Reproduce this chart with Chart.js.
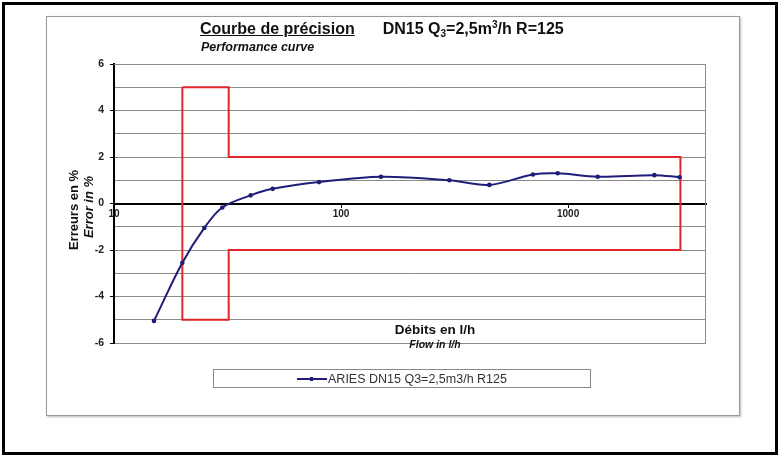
<!DOCTYPE html>
<html>
<head>
<meta charset="utf-8">
<script src="https://cdn.jsdelivr.net/npm/chart.js@4/dist/chart.umd.min.js"></script>
<style>
  body { margin: 0; background: #fff; font-family: Arial, "Liberation Sans", sans-serif; }
  #wrap { position: relative; width: 780px; height: 456px; overflow: hidden; }
  #frame { position: absolute; left: 2px; top: 2px; width: 770px; height: 447px; border: 3px solid #000; }
  #inner { position: absolute; left: 46px; top: 16px; width: 692px; height: 398px; border: 1px solid #999; box-shadow: 1px 1px 2px #bbb; }
  canvas { position: absolute; left: 0; top: 0; }
  .txt { position: absolute; color: #111; white-space: nowrap; }
  .rot { transform: translate(-50%, -50%) rotate(-90deg); }
  #legend { position: absolute; left: 213px; top: 369px; width: 376px; height: 17px; border: 1px solid #888;
            display: flex; align-items: center; justify-content: center; font-size: 12.5px; color: #333; }
  #legend .swatch { position: relative; width: 30px; height: 2px; background: #1f1d78; margin-right: 1px; }
  #legend .swatch i { position: absolute; left: 13px; top: -1px; width: 3px; height: 4px; background: #1f1d78; }
</style>
</head>
<body>
<div id="wrap">
  <div id="frame"></div>
  <div id="inner"></div>
  <canvas id="chart" width="780" height="456"></canvas>

  <div class="txt" style="left:200px; top:20px; font-size:16px; font-weight:bold;">
    <span style="text-decoration:underline;">Courbe de précision</span><span style="margin-left:28px;">DN15 Q<span style="font-size:10px; position:relative; top:3px;">3</span>=2,5m<span style="font-size:10px; position:relative; top:-6px;">3</span>/h R=125</span>
  </div>
  <div class="txt" style="left:201px; top:40px; font-size:12.5px; font-weight:bold; font-style:italic;">Performance curve</div>

  <div class="txt rot" style="left:73px; top:210px; font-size:13px; font-weight:bold;">Erreurs en %</div>
  <div class="txt rot" style="left:88px; top:207px; font-size:13px; font-weight:bold; font-style:italic;">Error in %</div>

  <div class="txt" style="left:435px; top:329px; transform:translate(-50%,-50%); font-size:13.5px; font-weight:bold;">Débits en l/h</div>
  <div class="txt" style="left:435px; top:344px; transform:translate(-50%,-50%); font-size:10.5px; font-weight:bold; font-style:italic;">Flow in l/h</div>

  <div id="legend"></div>
</div>

<script>
// Données
const seriesLabel = 'ARIES DN15 Q3=2,5m3/h R125';
const flowLh = [15, 20, 25, 30, 40, 50, 80, 150, 300, 450, 700, 900, 1350, 2400, 3100];
const errorPct = [-5.05, -2.55, -1.05, -0.17, 0.35, 0.63, 0.92, 1.15, 1.0, 0.8, 1.25, 1.3, 1.15, 1.22, 1.13];

// Enveloppe des erreurs max tolérées (Q1=20, Q2=32, Q4=3125 l/h)
const limitFlow = [20, 32, 32, 3125, 3125, 32, 32, 20, 20];
const limitError = [5, 5, 2, 2, -2, -2, -5, -5, 5];

const xTicks = [10, 100, 1000];
const xMin = 10, xMax = 4050;
const yMin = -6, yMax = 6;

const navy = '#1f1d78';
const red = '#e0262a';

document.getElementById('legend').innerHTML =
    '<span class="swatch"><i></i></span><span>' + seriesLabel + '</span>';

// Cadre gris de la zone de tracé
const plotFrame = {
    id: 'plotFrame',
    beforeDatasetsDraw(chart) {
        const a = chart.chartArea;
        const ctx = chart.ctx;
        ctx.save();
        ctx.strokeStyle = '#8a8a8a';
        ctx.lineWidth = 1;
        ctx.beginPath();
        ctx.moveTo(a.left, a.top + 0.5);
        ctx.lineTo(a.right - 0.5, a.top + 0.5);
        ctx.lineTo(a.right - 0.5, a.bottom);
        ctx.stroke();
        ctx.restore();
    }
};

new Chart(document.getElementById('chart'), {
    type: 'scatter',
    data: {
        datasets: [
            {
                label: seriesLabel,
                data: flowLh.map((x, i) => ({ x: x, y: errorPct[i] })),
                showLine: true,
                tension: 0.35,
                borderColor: navy,
                backgroundColor: navy,
                borderWidth: 2,
                pointRadius: 1.3,
                pointHoverRadius: 1.3,
                order: 0
            },
            {
                label: 'limites',
                data: limitFlow.map((x, i) => ({ x: x, y: limitError[i] })),
                showLine: true,
                tension: 0,
                borderColor: red,
                borderWidth: 2,
                pointRadius: 0,
                order: 1
            }
        ]
    },
    options: {
        responsive: false,
        animation: false,
        layout: { padding: { left: 74, right: 74, top: 64, bottom: 113 } },
        plugins: {
            legend: { display: false },
            tooltip: { enabled: false }
        },
        scales: {
            x: {
                type: 'logarithmic',
                position: { y: 0 },
                min: xMin,
                max: xMax,
                afterBuildTicks: s => { s.ticks = xTicks.map(v => ({ value: v })); },
                grid: { drawOnChartArea: false, drawTicks: true, tickLength: 3, color: '#000' },
                border: { color: '#000', width: 2 },
                ticks: {
                    autoSkip: false,
                    maxRotation: 0,
                    padding: 2,
                    color: '#222',
                    font: { family: 'Arial, "Liberation Sans"', size: 10, weight: 'bold' },
                    callback: v => String(v)
                }
            },
            y: {
                min: yMin,
                max: yMax,
                afterFit: s => { s.width = 40; },
                grid: {
                    color: '#8a8a8a',
                    lineWidth: 1,
                    tickLength: 4,
                    tickColor: c => (c.tick && c.tick.value % 2 === 0) ? '#000' : 'rgba(0,0,0,0)'
                },
                border: { color: '#000', width: 2 },
                ticks: {
                    stepSize: 1,
                    padding: 6,
                    color: '#222',
                    font: { family: 'Arial, "Liberation Sans"', size: 10.5, weight: 'bold' },
                    callback: v => (v % 2 === 0 ? String(v) : '')
                }
            }
        }
    },
    plugins: [plotFrame]
});
</script>
</body>
</html>
